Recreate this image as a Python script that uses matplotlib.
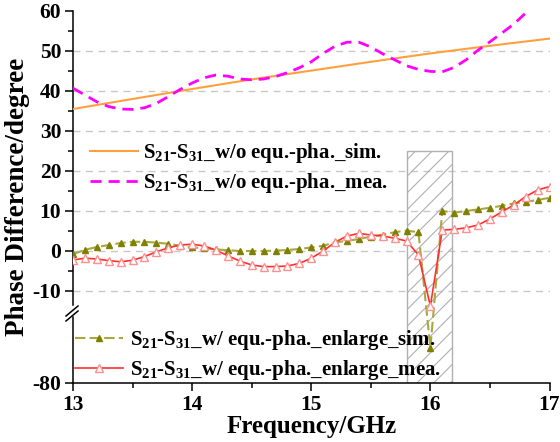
import matplotlib
matplotlib.use("Agg")
import matplotlib.pyplot as plt
import numpy as np
from matplotlib.patches import Rectangle

plt.rcParams['font.family'] = ['Liberation Serif', 'DejaVu Serif']
plt.rcParams['font.weight'] = 'bold'
plt.rcParams['mathtext.fontset'] = 'custom'
plt.rcParams['mathtext.rm'] = 'Liberation Serif:bold'
plt.rcParams['mathtext.it'] = 'Liberation Serif:bold'
plt.rcParams['mathtext.bf'] = 'Liberation Serif:bold'
plt.rcParams['axes.unicode_minus'] = False
plt.rcParams['hatch.color'] = '#b0b0b0'
plt.rcParams['hatch.linewidth'] = 0.8

# data
f_coarse = [13.0, 13.5, 14.0, 14.5, 15.0, 15.5, 16.0, 16.5, 17.0]
wo_sim = [35.5, 38.0, 40.5, 42.9, 45.1, 47.3, 49.4, 51.3, 53.1]

f_mea_wo = np.round(np.linspace(13.0, 16.8, 39), 1)
wo_mea = [40.7, 39.0, 37.3, 36.1, 35.5, 35.4, 35.8, 36.9, 38.6, 40.4,
          42.0, 43.3, 44.0, 43.7, 43.0, 42.8, 43.0, 43.6, 44.6, 45.8,
          47.3, 49.4, 51.2, 52.2, 52.2, 51.0, 49.3, 47.8, 46.3, 45.4,
          44.9, 44.8, 45.9, 47.8, 50.2, 52.3, 54.5, 56.7, 59.5]

freq = np.round(np.linspace(13.0, 17.0, 41), 1)
w_sim = [-0.8, 0.3, 1.0, 1.5, 2.0, 2.3, 2.3, 2.1, 1.8, 1.3,
         0.9, 0.7, 0.4, 0.2, 0.0, 0.0, 0.0, 0.1, 0.25, 0.5,
         0.9, 1.3, 2.2, 2.5, 3.0, 3.6, 4.1, 4.7, 5.1, 4.7,
         -64.0, 10.0, 9.6, 10.0, 10.4, 10.8, 11.3, 11.9, 12.3, 12.75,
         13.3]
w_mea = [-2.25, -1.8, -2.0, -2.4, -2.7, -2.3, -1.4, -0.2, 0.8, 1.5,
         1.7, 1.25, 0.25, -1.2, -2.5, -3.5, -3.9, -3.9, -3.75, -3.1,
         -1.8, 0.0, 2.2, 3.75, 4.4, 4.0, 3.75, 3.2, 2.5, -1.0,
         -13.75, 5.25, 5.4, 5.8, 6.5, 8.0, 9.8, 11.5, 13.6, 15.25,
         16.1]

yticks_major = [-80, -10, 0, 10, 20, 30, 40, 50, 60]
yticks_minor = [-5, 5, 15, 25, 35, 45, 55]
grid_vals = [-10, 0, 10, 20, 30, 40, 50]

# broken y axis as a piecewise linear scale
UP_BRK, LOW_TOP, LOW_BOT = -16.25, -50.0, -80.0
M_BOT, M_LOWTOP = -33.0, -16.5


def fwd(v):
    v = np.asarray(v, dtype=float)
    lower = M_BOT + (v - LOW_BOT) * (M_LOWTOP - M_BOT) / (LOW_TOP - LOW_BOT)
    gap = M_LOWTOP + (v - LOW_TOP) * (UP_BRK - M_LOWTOP) / (UP_BRK - LOW_TOP)
    return np.where(v >= UP_BRK, v, np.where(v >= LOW_TOP, gap, lower))


def inv(u):
    u = np.asarray(u, dtype=float)
    lower = LOW_BOT + (u - M_BOT) * (LOW_TOP - LOW_BOT) / (M_LOWTOP - M_BOT)
    gap = LOW_TOP + (u - M_LOWTOP) * (UP_BRK - LOW_TOP) / (UP_BRK - M_LOWTOP)
    return np.where(u >= UP_BRK, u, np.where(u >= M_LOWTOP, gap, lower))


fig = plt.figure(figsize=(5.6, 4.42), dpi=100)
ax = fig.add_axes([73/560, 1-383/442, 476.5/560, 372/442])
ax.set_yscale('function', functions=(fwd, inv))
ax.set_xlim(13, 17)
ax.set_ylim(-80, 60)

for g in grid_vals:
    ax.axhline(g, color='#c8c8c8', lw=1, ls=(0, (5, 4)), zorder=0)

ax.add_patch(Rectangle((15.8, -80), 0.38, 105, facecolor='none',
                       edgecolor='#b0b0b0', hatch='//', lw=1, zorder=1))

ax.plot(f_coarse, wo_sim, color='#ffa040', lw=1.5, zorder=3,
        label=r'S$_{21}$-S$_{31}$_w/o equ.-pha._sim.')
ax.plot(f_mea_wo, wo_mea, color='#ff00ff', lw=2, dashes=(4, 2.5), zorder=3,
        label=r'S$_{21}$-S$_{31}$_w/o equ.-pha._mea.')
ax.plot(freq, w_sim, color='#a8a840', lw=1.5, dashes=(5, 2), marker='^',
        ms=5, mfc='#808000', mec='#808000', zorder=4,
        label=r'S$_{21}$-S$_{31}$_w/ equ.-pha._enlarge_sim.')
ax.plot(freq, w_mea, color='#ff3030', lw=1.2, marker='^', ms=5.5,
        mfc='white', mec='#ff9090', zorder=4,
        label=r'S$_{21}$-S$_{31}$_w/ equ.-pha._enlarge_mea.')

ax.set_xticks([13, 14, 15, 16, 17])
ax.set_xticks([13.5, 14.5, 15.5, 16.5], minor=True)
ax.set_yticks(yticks_major)
ax.set_yticks(yticks_minor, minor=True)
ax.tick_params(which='major', direction='out', length=6, width=1.1,
               labelsize=15.5, pad=2.5)
ax.tick_params(which='minor', direction='out', length=3.5, width=1.1)

ax.spines['top'].set_visible(False)
ax.spines['right'].set_visible(False)
for s in ['left', 'bottom']:
    ax.spines[s].set_linewidth(1.1)
ax.spines['left'].set_bounds(-13.5, 60)
ax.plot([0, 0], [-80, -50], transform=ax.get_yaxis_transform(),
        color='k', lw=1.1, clip_on=False, zorder=5)
# break marks
for dy in (0.0, -5.0):
    ax.plot([(-7)/476.5, 5/476.5],
            [(72 + dy - 5)/372, (72 + dy + 5)/372],
            transform=ax.transAxes, color='k', lw=1.1, clip_on=False)

ax.set_xlabel('Frequency/GHz', fontsize=18, fontweight='bold', labelpad=0)
ax.set_ylabel('Phase Difference/degree', fontsize=19.5, fontweight='bold',
              labelpad=2)

h, lab = ax.get_legend_handles_labels()
leg1 = ax.legend(h[:2], lab[:2], loc='center left',
                 bbox_to_anchor=(0.035, 0.577), frameon=False, fontsize=15,
                 handlelength=2.3, handletextpad=0.25, labelspacing=0.3,
                 borderpad=0, borderaxespad=0)
ax.add_artist(leg1)
ax.legend(h[2:], lab[2:], loc='center left', bbox_to_anchor=(0.005, 0.075),
          frameon=False, fontsize=15, handlelength=2.3, handletextpad=0.3,
          labelspacing=0.3, borderpad=0, borderaxespad=0)

fig.savefig('out.png', dpi=100)
